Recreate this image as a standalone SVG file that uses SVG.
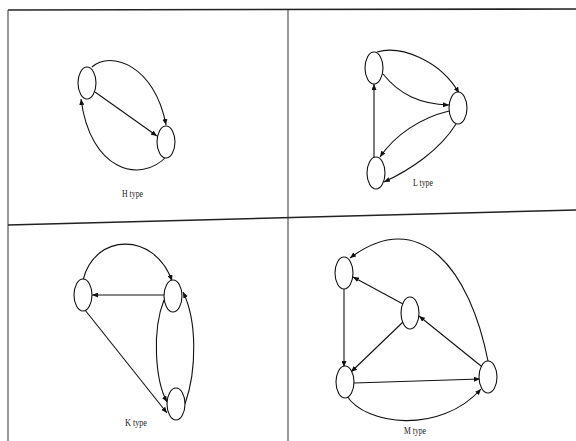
<svg xmlns="http://www.w3.org/2000/svg" width="576" height="441" viewBox="0 0 576 441">
<style>
.frame{stroke:#222;stroke-width:1.6;fill:none}
.vline{stroke:#555;stroke-width:1.2;fill:none}
.node{fill:#fff;stroke:#111;stroke-width:1.1}
.edge{fill:none;stroke:#111;stroke-width:1.1}
.lbl{font-family:"Liberation Serif",serif;font-size:10px;fill:#222}
</style>
<defs>
<marker id="ah" markerUnits="userSpaceOnUse" markerWidth="7" markerHeight="5" refX="6" refY="2.5" orient="auto">
<path d="M0,0 L6,2.5 L0,5 z" fill="#111"/>
</marker>
</defs>
<rect width="576" height="441" fill="#fff"/>
<g id="frame">
<line class="frame" x1="8" y1="10" x2="576" y2="9"/>
<line class="vline" x1="8" y1="10" x2="8" y2="441"/>
<line class="vline" x1="288" y1="10" x2="288" y2="441"/>
<line class="frame" x1="8" y1="225" x2="576" y2="210"/>
</g>
<g id="connectors">
<!-- H type -->
<path class="edge" marker-end="url(#ah)" d="M95,92 L157,136"/>
<path class="edge" marker-end="url(#ah)" d="M92,67 C110,50 155,65 166,125"/>
<path class="edge" marker-end="url(#ah)" d="M167,156 C140,185 90,170 81,99"/>
<!-- L type -->
<path class="edge" marker-end="url(#ah)" d="M377,52 C400,45 440,60 459,93"/>
<path class="edge" marker-end="url(#ah)" d="M383,74 C400,95 420,104 449,105"/>
<path class="edge" marker-end="url(#ah)" d="M449,111 C420,118 395,135 380,157"/>
<path class="edge" marker-end="url(#ah)" d="M456,124 C440,150 410,170 384,182"/>
<path class="edge" marker-end="url(#ah)" d="M374,158 L374,84"/>
<!-- K type -->
<path class="edge" marker-end="url(#ah)" d="M83,280 C95,232 155,232 172,281"/>
<path class="edge" marker-end="url(#ah)" d="M164,295 L92,295"/>
<path class="edge" marker-end="url(#ah)" d="M85,310 L167,413"/>
<path class="edge" marker-end="url(#ah)" d="M164,300 C152,330 155,380 167,402"/>
<path class="edge" marker-end="url(#ah)" d="M185,404 C197,370 197,320 183,292"/>
<!-- M type -->
<path class="edge" marker-end="url(#ah)" d="M488,361 C470,270 420,205 350,258"/>
<path class="edge" marker-end="url(#ah)" d="M403,304 L353,277"/>
<path class="edge" marker-end="url(#ah)" d="M344,289 L344,367"/>
<path class="edge" marker-end="url(#ah)" d="M403,322 L351,372"/>
<path class="edge" marker-end="url(#ah)" d="M354,383 L480,379"/>
<path class="edge" marker-end="url(#ah)" d="M481,366 L419,316"/>
<path class="edge" marker-end="url(#ah)" d="M347,396 C365,425 440,435 481,389"/>
</g>
<g id="H1"><ellipse class="node" cx="87" cy="83" rx="9" ry="16"/></g>
<g id="H2"><ellipse class="node" cx="166" cy="142" rx="9" ry="16"/></g>
<g id="H-label"><text class="lbl" x="122" y="197" textLength="21" lengthAdjust="spacingAndGlyphs">H type</text></g>
<g id="L1"><ellipse class="node" cx="374" cy="68" rx="9" ry="16"/></g>
<g id="L2"><ellipse class="node" cx="458" cy="108" rx="9" ry="16"/></g>
<g id="L3"><ellipse class="node" cx="376" cy="173" rx="9" ry="16"/></g>
<g id="L-label"><text class="lbl" x="413" y="186" textLength="20" lengthAdjust="spacingAndGlyphs">L type</text></g>
<g id="K1"><ellipse class="node" cx="83" cy="295" rx="9" ry="16"/></g>
<g id="K2"><ellipse class="node" cx="173" cy="296" rx="9" ry="16"/></g>
<g id="K3"><ellipse class="node" cx="176" cy="404" rx="9" ry="16"/></g>
<g id="K-label"><text class="lbl" x="125" y="426" textLength="22" lengthAdjust="spacingAndGlyphs">K type</text></g>
<g id="M1"><ellipse class="node" cx="344" cy="273" rx="9" ry="16"/></g>
<g id="M2"><ellipse class="node" cx="410" cy="313" rx="9" ry="16"/></g>
<g id="M3"><ellipse class="node" cx="345" cy="382" rx="9" ry="16"/></g>
<g id="M4"><ellipse class="node" cx="488" cy="377" rx="9" ry="16"/></g>
<g id="M-label"><text class="lbl" x="404" y="434" textLength="22" lengthAdjust="spacingAndGlyphs">M type</text></g>
</svg>
